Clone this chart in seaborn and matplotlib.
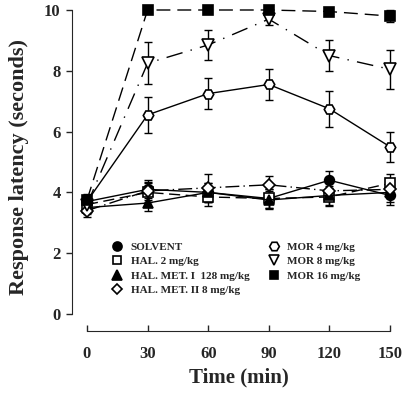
import matplotlib
matplotlib.use("Agg")
import matplotlib.pyplot as plt
from matplotlib.lines import Line2D
import numpy as np
import pandas as pd
import seaborn as sns

# time points (min)
times = [0, 30, 60, 90, 120, 150]

# group names as in the legend
groups = ['SOLVENT', 'HAL. 2 mg/kg', 'HAL. MET. I  128 mg/kg', 'HAL. MET. II 8 mg/kg',
          'MOR 4 mg/kg', 'MOR 8 mg/kg', 'MOR 16 mg/kg']

# mean response latency (seconds)
solvent = [3.7, 4.1, 4.0, 3.8, 4.4, 3.9]
hal2 = [3.6, 4.0, 3.85, 3.8, 3.85, 4.3]
halmet1 = [3.5, 3.65, 4.0, 3.75, 3.9, 4.0]
halmet2 = [3.4, 4.05, 4.15, 4.25, 4.05, 4.1]
mor4 = [3.7, 6.55, 7.25, 7.55, 6.75, 5.5]
mor8 = [3.6, 8.25, 8.85, 9.7, 8.5, 8.05]
mor16 = [3.75, 10.0, 10.0, 10.0, 9.95, 9.8]

# standard errors
solvent_err = [0.2, 0.3, 0.3, 0.3, 0.3, 0.3]
hal2_err = [0.2, 0.3, 0.3, 0.3, 0.3, 0.3]
halmet1_err = [0.2, 0.25, 0.3, 0.3, 0.3, 0.3]
halmet2_err = [0.2, 0.3, 0.45, 0.3, 0.3, 0.3]
mor4_err = [0.2, 0.6, 0.5, 0.5, 0.6, 0.5]
mor8_err = [0.2, 0.7, 0.5, 0.2, 0.5, 0.65]
mor16_err = [0.2, 0.05, 0.05, 0.05, 0.05, 0.2]

means = [solvent, hal2, halmet1, halmet2, mor4, mor8, mor16]
errs = [solvent_err, hal2_err, halmet1_err, halmet2_err, mor4_err, mor8_err, mor16_err]

markers = ['o', 's', '^', 'D', 'H', 'v', 's']
faces = ['black', 'white', 'black', 'white', 'white', 'white', 'black']
sizes = [7, 6.5, 7, 6, 7.5, 8, 6.5]
styles = ['-', (0, (8, 4)), '-', (0, (10, 3, 1, 3)), '-', (0, (12, 6, 1, 6)), (0, (10, 5))]

rows = []
for g, m, e in zip(groups, means, errs):
    for t, v, s in zip(times, m, e):
        rows.append({'Group': g, 'Time': t, 'Latency': v, 'SE': s})
df = pd.DataFrame(rows)

sns.set_style('ticks')
plt.rcParams['font.family'] = ['Liberation Serif', 'DejaVu Serif']
plt.rcParams['font.weight'] = 'bold'

fig = plt.figure(figsize=(4.06, 4.01), dpi=100)
ax = fig.add_axes([87 / 406, 87 / 401, 303 / 406, 304 / 401])

for i, g in enumerate(groups):
    sub = df[df['Group'] == g]
    ax.errorbar(sub['Time'], sub['Latency'], yerr=sub['SE'], fmt='none',
                ecolor='black', elinewidth=1, capsize=3, capthick=1,
                clip_on=False, zorder=2)
    sns.lineplot(data=sub, x='Time', y='Latency', ax=ax, color='black',
                 linewidth=1, linestyle=styles[i], marker=markers[i],
                 markersize=sizes[i], markerfacecolor=faces[i],
                 markeredgecolor='black', markeredgewidth=1.2,
                 clip_on=False, zorder=3, legend=False)

ax.set_xlim(0, 150)
ax.set_ylim(0, 10)
ax.set_xticks(times)
ax.set_yticks([0, 2, 4, 6, 8, 10])
ax.spines['top'].set_visible(False)
ax.spines['right'].set_visible(False)
ax.spines['left'].set_position(('outward', 11))
ax.spines['bottom'].set_position(('outward', 12))
ax.tick_params(axis='y', direction='out', length=4, width=1, labelsize=12, pad=4)
ax.tick_params(axis='x', direction='in', length=4, width=1, labelsize=12, pad=11)
for lab in ax.get_xticklabels() + ax.get_yticklabels():
    lab.set_fontweight('bold')
ax.set_xlabel('Time (min)', fontsize=15, fontweight='bold', labelpad=4)
ax.set_ylabel('Response latency (seconds)', fontsize=16, fontweight='bold')
ax.yaxis.set_label_coords(-0.19, 0.484)

handles = [Line2D([], [], linestyle='none', marker=markers[i], markersize=sizes[i] - 0.5,
                  markerfacecolor=faces[i], markeredgecolor='black', markeredgewidth=1.2)
           for i in range(len(groups))]
# right column holds 3 entries, pad with one blank
blank = Line2D([], [], linestyle='none')
order = handles + [blank]
labels = groups + ['']
leg = ax.legend(order, labels, ncol=2, loc='upper left', bbox_to_anchor=(0.06, 0.255),
                frameon=False, fontsize=8, handletextpad=0.6, labelspacing=0.42,
                columnspacing=1.6, handlelength=1.2, borderpad=0)
for t in leg.get_texts():
    t.set_fontweight('bold')

fig.savefig('out.png', dpi=100)
